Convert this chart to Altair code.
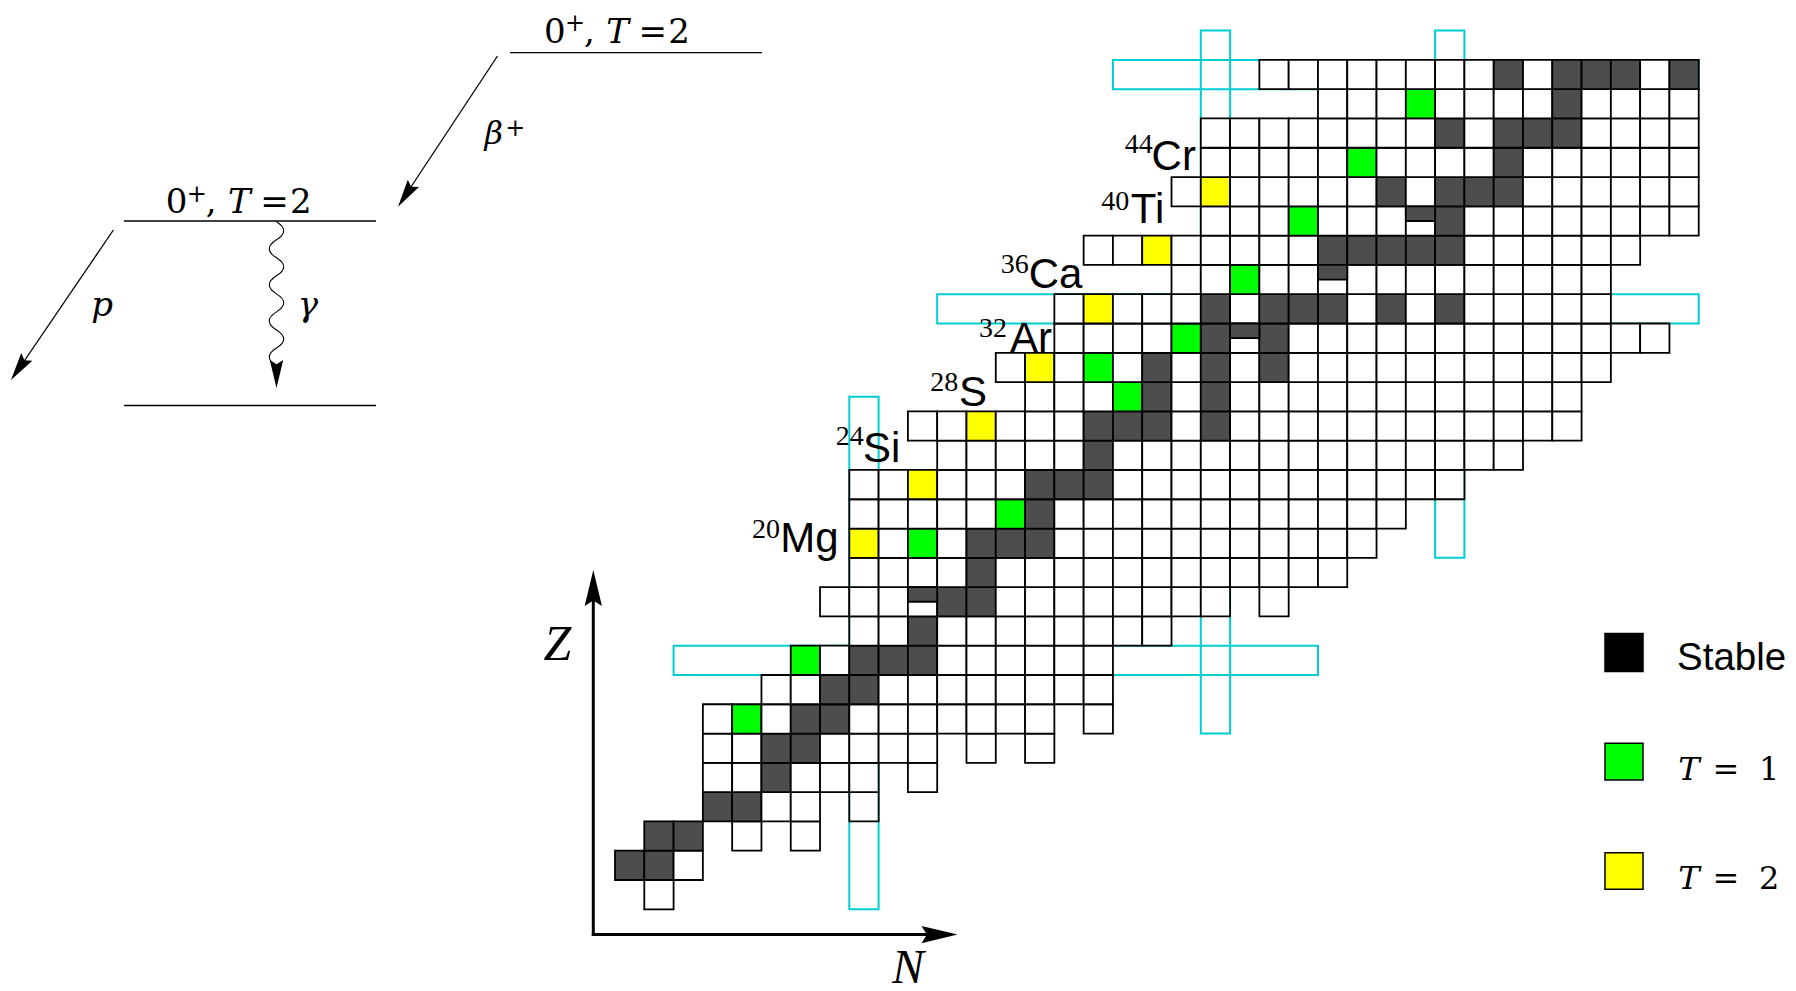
import math
import altair as alt
import pandas as pd

# ---------------- data ----------------
Z_VALUES = list(range(29))
N_FIRST = [1, 0, 1, 3, 3, 3, 3, 5, 6, 8, 7, 8, 8, 8, 8, 11, 10, 14, 13, 15, 15, 19, 16, 20, 19, 20, 20, 24, 22]
N_LAST = [1, 2, 6, 8, 10, 14, 16, 16, 16, 18, 22, 24, 25, 26, 28, 30, 32, 32, 33, 35, 33, 33, 34, 36, 36, 36, 36, 36, 36]
MISSING = [(2, 3), (2, 5), (3, 7), (4, 9), (5, 11), (5, 13), (6, 15), (10, 21)]  # (Z, N)
STABLE = [(1, 0), (1, 1), (2, 1), (2, 2), (3, 3), (3, 4), (4, 5), (5, 5), (5, 6), (6, 6), (6, 7),
          (7, 7), (7, 8), (8, 8), (8, 9), (8, 10), (9, 10), (10, 11), (10, 12), (11, 12),
          (12, 12), (12, 13), (12, 14), (13, 14), (14, 14), (14, 15), (14, 16), (15, 16),
          (16, 16), (16, 17), (16, 18), (16, 20), (17, 18), (17, 20), (18, 18), (18, 20), (18, 22),
          (19, 20), (19, 22), (20, 20), (20, 22), (20, 23), (20, 24), (20, 26), (20, 28),
          (22, 24), (22, 25), (22, 26), (22, 27), (22, 28), (23, 28), (24, 26), (24, 28), (24, 29),
          (24, 30), (25, 30), (26, 28), (26, 30), (26, 31), (26, 32), (27, 32),
          (28, 30), (28, 32), (28, 33), (28, 34), (28, 36)]
HALF_STABLE = [(10, 10), (19, 21), (21, 24), (23, 27)]
T1_STATES = [(6, 4), (8, 6), (12, 10), (13, 13), (17, 17), (18, 16), (19, 19), (21, 21), (23, 23), (25, 25), (27, 27)]
T2_STATES = [(12, 8), (14, 10), (16, 12), (18, 14), (20, 16), (22, 18), (24, 20)]
LABEL_MASS = ["20", "24", "28", "32", "36", "40", "44"]
LABEL_SYMBOL = ["Mg", "Si", "S", "Ar", "Ca", "Ti", "Cr"]
MAGIC = [8, 20, 28]
MAGIC_N_SPAN = [(0, 17.5), (6, 30), (12, 30)]   # Z extent of the magic-N column outlines
MAGIC_Z_SPAN = [(2, 24), (11, 37), (17, 37)]    # N extent of the magic-Z row outlines
LEGEND_NAMES = ["Stable", "T = 1", "T = 2"]

# ---------------- layout ----------------
DARK, GREEN, YELLOW, CYAN = "#4d4d4d", "#00ff00", "#ffff00", "#00CED1"
SERIF_L = "DejaVu Serif"
CELL = 29.29
X0, Y0 = 615.0, 909.3          # page px of the N=0 left edge and Z=0 bottom edge
W, H = 1780, 983
U_MIN = -(X0 - 8) / CELL
U_MAX = U_MIN + W / CELL
V_MAX = (Y0 - 8) / CELL
V_MIN = V_MAX - H / CELL


def pu(px):
    return (px - X0) / CELL


def pv(py):
    return (Y0 - py) / CELL


XS = alt.Scale(domain=[U_MIN, U_MAX], nice=False, zero=False)
YS = alt.Scale(domain=[V_MIN, V_MAX], nice=False, zero=False)


def ex(f):
    return alt.X(f"{f}:Q", scale=XS, axis=None)


def ey(f):
    return alt.Y(f"{f}:Q", scale=YS, axis=None)


# ---------------- nuclide cells ----------------
kind = {}
for p in STABLE:
    kind[p] = "stable"
for p in T1_STATES:
    kind[p] = "t1"
for p in T2_STATES:
    kind[p] = "t2"
missing = set(MISSING)
cell_rows = []
for z, a, b in zip(Z_VALUES, N_FIRST, N_LAST):
    for n in range(a, b + 1):
        if (z, n) in missing:
            continue
        cell_rows.append({"N": n, "N2": n + 1, "Z": z, "Z2": z + 1, "kind": kind.get((z, n), "other")})
cells = pd.DataFrame(cell_rows)
half = pd.DataFrame([{"N": n, "N2": n + 1, "Zm": z + 0.5, "Z2": z + 1} for z, n in HALF_STABLE])

magic_rows = []
for m, (lo, hi) in zip(MAGIC, MAGIC_N_SPAN):
    magic_rows.append({"a": m, "a2": m + 1, "b": lo, "b2": hi})
for m, (lo, hi) in zip(MAGIC, MAGIC_Z_SPAN):
    magic_rows.append({"a": lo, "a2": hi, "b": m, "b2": m + 1})
magic = pd.DataFrame(magic_rows)

magic_layer = alt.Chart(magic).mark_rect(fill="white", fillOpacity=0, stroke=CYAN, strokeWidth=2).encode(
    x=ex("a"), x2="a2", y=ey("b"), y2="b2")
cells_layer = alt.Chart(cells).mark_rect(stroke="black", strokeWidth=1.8).encode(
    x=ex("N"), x2="N2", y=ey("Z"), y2="Z2",
    fill=alt.Fill("kind:N", scale=alt.Scale(domain=["stable", "t1", "t2", "other"],
                                            range=[DARK, GREEN, YELLOW, "#ffffff"]), legend=None))
half_layer = alt.Chart(half).mark_rect(fill=DARK, stroke="black", strokeWidth=1.8).encode(
    x=ex("N"), x2="N2", y=ey("Zm"), y2="Z2")

# ---------------- decorations: lines and arrow heads ----------------
def seg(p1, p2):
    return {"u1": pu(p1[0]), "v1": pv(p1[1]), "u2": pu(p2[0]), "v2": pv(p2[1])}


thin = pd.DataFrame([
    seg((510, 52.7), (762, 52.7)),
    seg((124, 221), (376, 221)),
    seg((124, 405.5), (376, 405.5)),
    seg((497.5, 56), (401, 202)),
    seg((113.4, 230), (14, 376)),
])
thick = pd.DataFrame([
    seg((593.3, 934.6), (593.3, 590)),
    seg((593.3, 934.6), (940, 934.6)),
])
thin_layer = alt.Chart(thin).mark_rule(color="black", strokeWidth=1.3).encode(
    x=ex("u1"), y=ey("v1"), x2="u2", y2="v2")
thick_layer = alt.Chart(thick).mark_rule(color="black", strokeWidth=3, strokeCap="square").encode(
    x=ex("u1"), y=ey("v1"), x2="u2", y2="v2")

HEAD = "M0,-1L0.48,1L0,0.7L-0.48,1Z"


def head(tip, frm, length):
    dx, dy = tip[0] - frm[0], tip[1] - frm[1]
    d = math.hypot(dx, dy)
    dx, dy = dx / d, dy / d
    cx, cy = tip[0] - dx * length / 2, tip[1] - dy * length / 2
    ang = math.degrees(math.atan2(dx, -dy)) % 360
    return {"u": pu(cx), "v": pv(cy), "ang": ang, "sz": length ** 2}


heads = pd.DataFrame([
    head((398, 206.7), (497.5, 56), 28),
    head((11, 380), (113.4, 230), 28),
    head((276.5, 388), (276.5, 221.7), 28),
    head((593.3, 570), (593.3, 934.6), 36),
    head((957.5, 934.6), (593.3, 934.6), 36),
])
heads_layer = alt.Chart(heads).mark_point(shape=HEAD, filled=True, color="black", opacity=1, strokeWidth=0).encode(
    x=ex("u"), y=ey("v"), angle=alt.Angle("ang:Q", scale=None), size=alt.Size("sz:Q", scale=None))

# wavy gamma line as a custom symbol
halves, ctrl = 8, 0.2
hstep = 2.0 / halves
parts = ["M0,-1"]
yy = -1.0
for i in range(halves):
    s = 1 if i % 2 == 0 else -1
    parts.append(f"Q{s * ctrl:.3f},{yy + hstep / 2:.3f} 0,{yy + hstep:.3f}")
    yy += hstep
WAVE = " ".join(parts)
wave_len = 366 - 221.7
wave = pd.DataFrame([{"u": pu(276.5), "v": pv((221.7 + 366) / 2)}])
wave_layer = alt.Chart(wave).mark_point(shape=WAVE, filled=False, color="black", opacity=1,
                                        strokeWidth=1.1, size=wave_len ** 2).encode(x=ex("u"), y=ey("v"))

# ---------------- legend boxes ----------------
leg = pd.DataFrame([
    {"x1": pu(1605), "x2": pu(1643), "y1": pv(671.5), "y2": pv(633.5), "c": "black"},
    {"x1": pu(1605), "x2": pu(1643), "y1": pv(780), "y2": pv(743.3), "c": GREEN},
    {"x1": pu(1605), "x2": pu(1643), "y1": pv(889.3), "y2": pv(852.7), "c": YELLOW},
])
leg_layer = alt.Chart(leg).mark_rect(stroke="black", strokeWidth=1.5).encode(
    x=ex("x1"), x2="x2", y=ey("y1"), y2="y2", fill=alt.Fill("c:N", scale=None))

# ---------------- texts ----------------
def text_layer(rows, font, align, style=None):
    df = pd.DataFrame([{"t": t, "u": pu(x), "v": pv(y), "s": s} for t, x, y, s in rows])
    kw = dict(font=font, align=align, baseline="alphabetic", color="black")
    if style:
        kw["fontStyle"] = style
    return alt.Chart(df).mark_text(**kw).encode(
        x=ex("u"), y=ey("v"), text="t:N", size=alt.Size("s:Q", scale=None))


SYM_POS = [(780.2, 551.5), (863.1, 461.7), (959.1, 405.5), (1010, 351.7), (1028.7, 287.5), (1130.8, 223.3), (1151.6, 169.5)]
SUP_POS = [(780, 538), (863.7, 445), (958.3, 390.7), (1007, 336.7), (1028.7, 273.3), (1129.3, 210), (1152.7, 153.3)]

sans_rows = [(s, x, y, 42) for s, (x, y) in zip(LABEL_SYMBOL, SYM_POS)]
sans_rows.append((LEGEND_NAMES[0], 1677, 669.5, 38.5))
sup_rows = [(m, x, y, 28) for m, (x, y) in zip(LABEL_MASS, SUP_POS)]

LEVEL_PIECES = [("0", 554.8, 42.5, 34, False), ("+", 575.0, 31.0, 24, False), (",", 589.3, 42.5, 34, False),
                ("T", 617.5, 42.5, 34, True), ("=", 652.8, 42.5, 34, False), ("2", 679.0, 42.5, 34, False)]
LEVEL_SHIFT = [(0, 0), (-378.2, 170.6)]
lvl_rows, lvl_it_rows = [], []
for dx, dy in LEVEL_SHIFT:
    for t, x, y, s, it in LEVEL_PIECES:
        (lvl_it_rows if it else lvl_rows).append((t, x + dx, y + dy, s))
lvl_rows.append(("+", 515.3, 136, 24))
lvl_it_rows += [("β", 493.8, 144, 32), ("p", 102, 316, 34), ("γ", 308, 316, 34)]
for name, base in zip(LEGEND_NAMES[1:], [780, 889]):
    t, eq, num = name.split(" ")
    lvl_it_rows.append((t, 1689, base, 32))
    lvl_rows.append((eq, 1726, base, 32))
    lvl_rows.append((num, 1769.2, base, 32))
axis_rows = [("Z", 557.5, 660, 50), ("N", 908, 983, 48)]

texts = [
    text_layer(sans_rows, "Liberation Sans", "left"),
    text_layer(sup_rows, "Liberation Serif", "right"),
    text_layer(lvl_rows, SERIF_L, "center"),
    text_layer(lvl_it_rows, SERIF_L, "center", "italic"),
    text_layer(axis_rows, "Liberation Serif", "center", "italic"),
]

chart = alt.layer(
    magic_layer, cells_layer, half_layer, thin_layer, thick_layer, wave_layer, heads_layer, leg_layer, *texts
).properties(
    width=W, height=H,
    autosize=alt.AutoSizeParams(type="none"),
    padding=0,
).configure_view(stroke=None)

chart.save("out.html", embed_options={"renderer": "svg", "actions": False})
